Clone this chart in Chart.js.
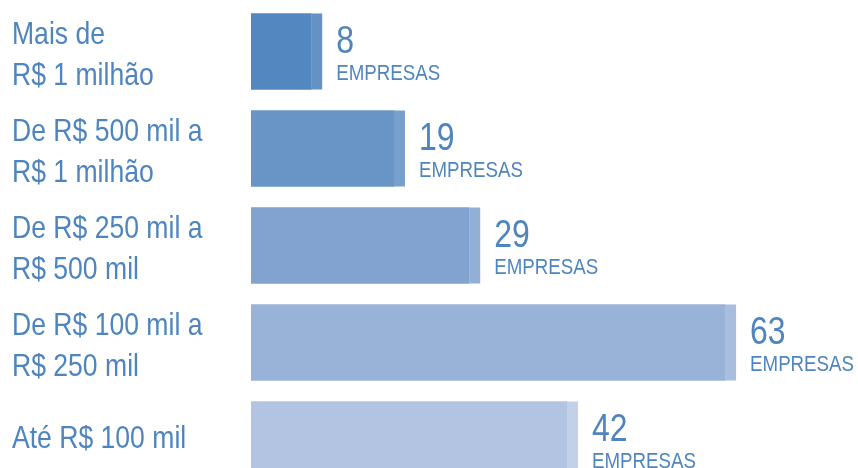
<!DOCTYPE html>
<html>
<head>
<meta charset="utf-8">
<script src="https://cdn.jsdelivr.net/npm/chart.js@4"></script>
<style>
    html, body { margin: 0; padding: 0; background: #fff; }
    body { width: 858px; height: 468px; overflow: hidden; }
    /* last bar runs past the bottom edge, so the canvas is a bit taller than the page */
    canvas { display: block; }
</style>
</head>
<body>
<canvas id="faixas" width="858" height="490"></canvas>
<script>
// faixas de faturamento e número de empresas em cada uma
const faixas = [
    ["Mais de", "R$ 1 milhão"],
    ["De R$ 500 mil a", "R$ 1 milhão"],
    ["De R$ 250 mil a", "R$ 500 mil"],
    ["De R$ 100 mil a", "R$ 250 mil"],
    ["Até R$ 100 mil"]
];
const empresas = [8, 19, 29, 63, 42];
const unidade = "EMPRESAS";

const FONTE = "'Liberation Sans', Arial, sans-serif";
const AZUL_TEXTO = "#4f85bf";
const corBarra = ["#5287bf", "#6894c6", "#82a3cf", "#99b2d8", "#b2c4e2"];
const corFaixa = ["#6691c4", "#799fcc", "#92afd5", "#a9bede", "#c2d0e8"];

// no condensed face installed, so squeeze the regular one horizontally
function textoEstreito(ctx, texto, x, y, tamanho, aperto) {
    ctx.save();
    ctx.font = tamanho + "px " + FONTE;
    ctx.fillStyle = AZUL_TEXTO;
    ctx.textAlign = "left";
    ctx.textBaseline = "alphabetic";
    ctx.translate(x, y);
    ctx.scale(aperto, 1);
    ctx.fillText(texto, 0, 0);
    ctx.restore();
}

// category names on the left, taken from the y scale positions
const nomesFaixas = {
    id: "nomesFaixas",
    afterDraw(chart) {
        const ctx = chart.ctx;
        const y = chart.scales.y;
        faixas.forEach(function (linhas, i) {
            const centro = y.getPixelForTick(i);
            if (linhas.length === 1) {
                textoEstreito(ctx, linhas[0], 12, centro + 8, 32, 0.83);
            } else {
                textoEstreito(ctx, linhas[0], 12, centro - 8, 32, 0.83);
                textoEstreito(ctx, linhas[1], 12, centro + 33, 32, 0.83);
            }
        });
    }
};

// lighter strip at the end of each bar + the "N EMPRESAS" label
const rotulos = {
    id: "rotulos",
    afterDatasetsDraw(chart) {
        const ctx = chart.ctx;
        const meta = chart.getDatasetMeta(0);
        meta.data.forEach(function (bar, i) {
            const topo = bar.y - bar.height / 2;
            ctx.save();
            ctx.fillStyle = corFaixa[i];
            ctx.fillRect(bar.x, topo, 11, bar.height);
            ctx.restore();

            textoEstreito(ctx, String(empresas[i]), bar.x + 25, topo + 39, 39, 0.82);
            textoEstreito(ctx, unidade, bar.x + 25, topo + 66, 21.5, 0.87);
        });
    }
};

new Chart(document.getElementById("faixas"), {
    type: "bar",
    data: {
        labels: faixas,
        datasets: [{
            data: empresas,
            backgroundColor: corBarra,
            borderWidth: 0,
            barThickness: 76
        }]
    },
    options: {
        indexAxis: "y",
        responsive: false,
        animation: false,
        layout: { padding: { left: 0, right: 5, top: 3, bottom: 2 } },
        scales: {
            x: {
                display: false,
                min: 0,
                max: 80
            },
            y: {
                grid: { display: false },
                border: { display: false },
                ticks: { display: false },
                afterFit: function (scale) { scale.width = 251; }
            }
        },
        plugins: {
            legend: { display: false },
            tooltip: { enabled: false }
        }
    },
    plugins: [rotulos, nomesFaixas]
});
</script>
</body>
</html>
